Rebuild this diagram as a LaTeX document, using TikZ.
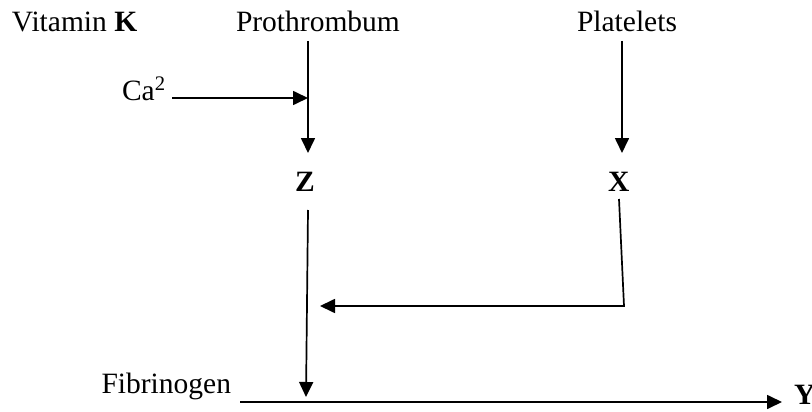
\documentclass[tikz,border=0pt]{standalone}
\usepackage{fontspec}
\setmainfont{Liberation Serif}
\usetikzlibrary{arrows.meta}
\begin{document}
\begin{tikzpicture}[x=1pt,y=-1pt,
  lbl/.style={inner sep=0pt,outer sep=0pt,font=\fontsize{29.5}{35}\selectfont},
  conn/.style={line width=1.7pt},
  arr/.style={conn,-{Triangle[length=15pt,width=14pt]}}]
\useasboundingbox (0,0) rectangle (812,412);
% labels
\node[lbl,anchor=base west] (vitk) at (12,32) {Vitamin \textbf{K}};
\node[lbl,anchor=base west] (proth) at (236,32) {Prothrombum};
\node[lbl,anchor=base west] (plat) at (577,32) {Platelets};
\node[lbl,anchor=base west] (ca) at (122,100) {Ca\textsuperscript{2}};
\node[lbl,anchor=base west] (Z) at (295,191) {\textbf{Z}};
\node[lbl,anchor=base west] (X) at (608,191) {\textbf{X}};
\node[lbl,anchor=base east] (fib) at (231,393) {Fibrinogen};
\node[lbl,anchor=base west] (Y) at (794,404) {\textbf{Y}};
% connector end points
\coordinate (pTop) at (308,41);
\coordinate (pMid) at (308,98);
\coordinate (pBot) at (308,153);
\coordinate (xTop) at (622,41);
\coordinate (xBot) at (622,153);
\coordinate (zTop) at (308,210);
\coordinate (zBot) at (306,397);
\coordinate (xs) at (619,199);
\coordinate (xc) at (624,306);
\coordinate (xe) at (320,306);
\coordinate (fs) at (240,402);
\coordinate (fe) at (782,402);
\coordinate (cs) at (172,98);
% connectors
\draw[arr] (pTop) -- (pBot);
\draw[arr] (cs) -- (pMid);
\draw[arr] (xTop) -- (xBot);
\draw[arr] (zTop) -- (zBot);
\draw[arr] (xs) -- (xc) -- (xe);
\draw[arr] (fs) -- (fe);
\end{tikzpicture}
\end{document}
